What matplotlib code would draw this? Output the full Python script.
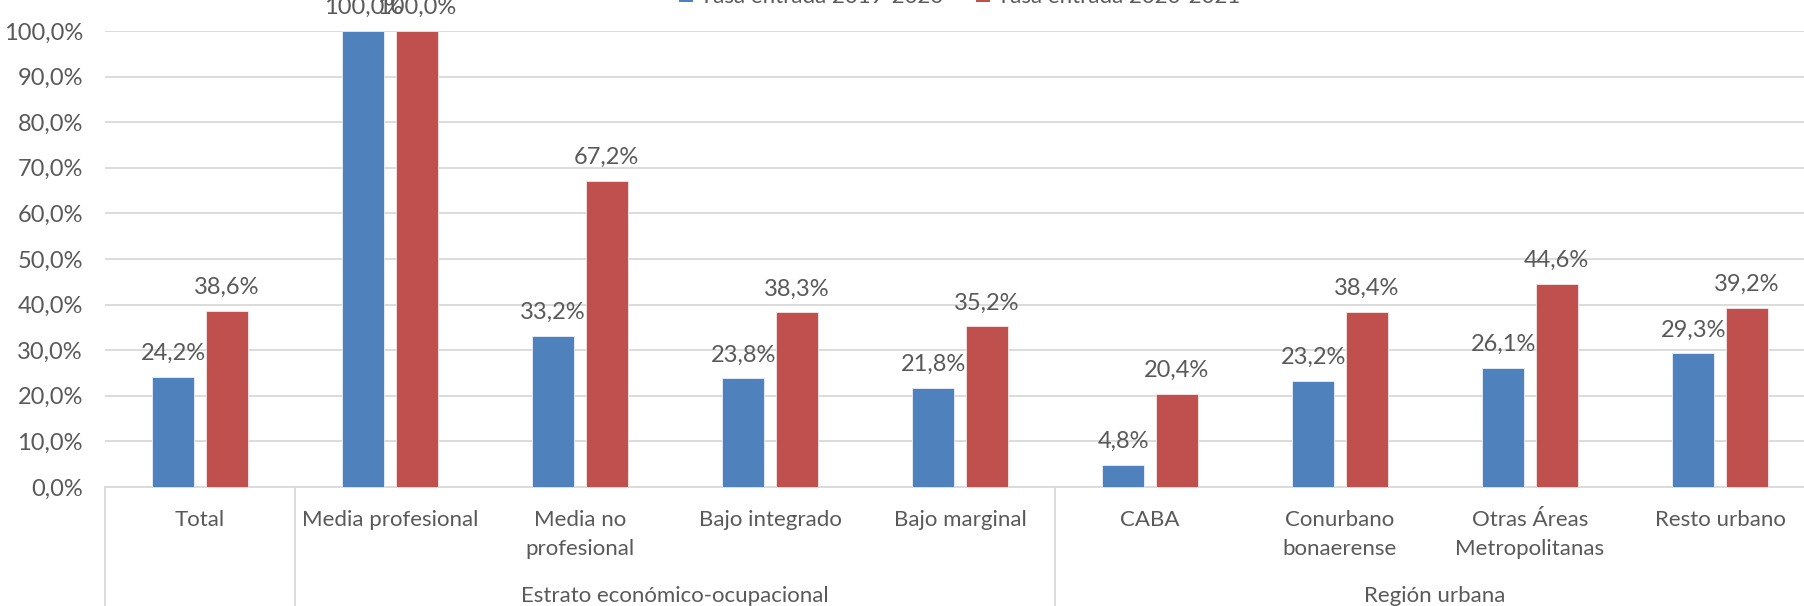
import matplotlib
matplotlib.use("Agg")
import matplotlib.pyplot as plt
import numpy as np
from matplotlib.transforms import blended_transform_factory
from matplotlib.patches import Rectangle

plt.rcParams['font.family'] = ['Lato', 'DejaVu Sans']

categories = ["Total", "Media profesional", "Media no\nprofesional", "Bajo integrado",
              "Bajo marginal", "CABA", "Conurbano\nbonaerense",
              "Otras Áreas\nMetropolitanas", "Resto urbano"]
groups = ["Estrato económico-ocupacional", "Región urbana"]
group_spans = [(1, 4), (5, 8)]
series_names = ["Tasa entrada 2019-2020", "Tasa entrada 2020-2021"]
vals_1920 = [24.2, 100.0, 33.2, 23.8, 21.8, 4.8, 23.2, 26.1, 29.3]
vals_2021 = [38.6, 100.0, 67.2, 38.3, 35.2, 20.4, 38.4, 44.6, 39.2]
yticks = [0, 10, 20, 30, 40, 50, 60, 70, 80, 90, 100]

c_blue = "#4F81BD"
c_red = "#C0504D"
txt = "#595959"
grid = "#D9D9D9"
FS_TXT = 16
FS_NUM = 17

W, H = 1804, 606
fig = plt.figure(figsize=(W / 100, H / 100), dpi=100)
left = 105 / W
width = 1710 / W
bottom = 1 - 487 / H
top = 1 - 31 / H
ax = fig.add_axes([left, bottom, width, top - bottom])

x = np.arange(len(categories))
bw = 0.222
off = 0.141
b1 = ax.bar(x - off, vals_1920, bw, color=c_blue, edgecolor="#EAF0F8", linewidth=0.6, zorder=3)
b2 = ax.bar(x + off, vals_2021, bw, color=c_red, edgecolor="#F6E6E6", linewidth=0.6, zorder=3)

def fmt(v):
    return f"{v:.1f}%".replace(".", ",")

for bars, vals in ((b1, vals_1920), (b2, vals_2021)):
    for rect, v in zip(bars, vals):
        ax.annotate(fmt(v), (rect.get_x() + rect.get_width() / 2, v),
                    xytext=(0, 12.2), textcoords="offset points",
                    ha="center", va="baseline", fontsize=FS_NUM, color=txt,
                    annotation_clip=False, zorder=5)

ax.set_xlim(-0.5, len(categories) - 0.5)
ax.set_ylim(0, 100)
ax.set_yticks(yticks)
ax.set_yticklabels([fmt(v) for v in yticks], fontsize=FS_NUM, color=txt)
ax.tick_params(axis="y", length=0, pad=16)
ax.set_xticks([])
ax.yaxis.grid(True, color=grid, linewidth=1.3, zorder=0)
ax.set_axisbelow(True)
for s in ["top", "right", "left"]:
    ax.spines[s].set_visible(False)
ax.spines["bottom"].set_color(grid)
ax.spines["bottom"].set_linewidth(1.3)

tr = blended_transform_factory(ax.transData, fig.transFigure)
for xi, cat in zip(x, categories):
    for i, line in enumerate(cat.split("\n")):
        ax.text(xi, 1 - (526 + 29 * i) / H, line, transform=tr, ha="center",
                va="baseline", fontsize=FS_TXT, color=txt)

for (a, b), g in zip(group_spans, groups):
    ax.text((a + b) / 2, 1 - 602 / H, g, transform=tr, ha="center", va="baseline",
            fontsize=FS_TXT, color=txt)

# category separators
for xs in [-0.5, 0.5, 4.5, 8.5]:
    ax.plot([xs, xs], [1 - 487 / H, 0], transform=tr, color=grid, linewidth=1.3,
            clip_on=False)

# legend (clipped at the top edge, as in the reference)
leg_x = [679, 976]
for lx, name, col in zip(leg_x, series_names, [c_blue, c_red]):
    fig.patches.append(Rectangle((lx / W, 1 - 2 / H), 14 / W, 14 / H,
                                 transform=fig.transFigure, facecolor=col,
                                 edgecolor="none"))
    fig.text((lx + 21) / W, 1 - 3 / H, name, ha="left", va="baseline",
             fontsize=FS_TXT, color=txt)

fig.savefig("out.png", dpi=100)
